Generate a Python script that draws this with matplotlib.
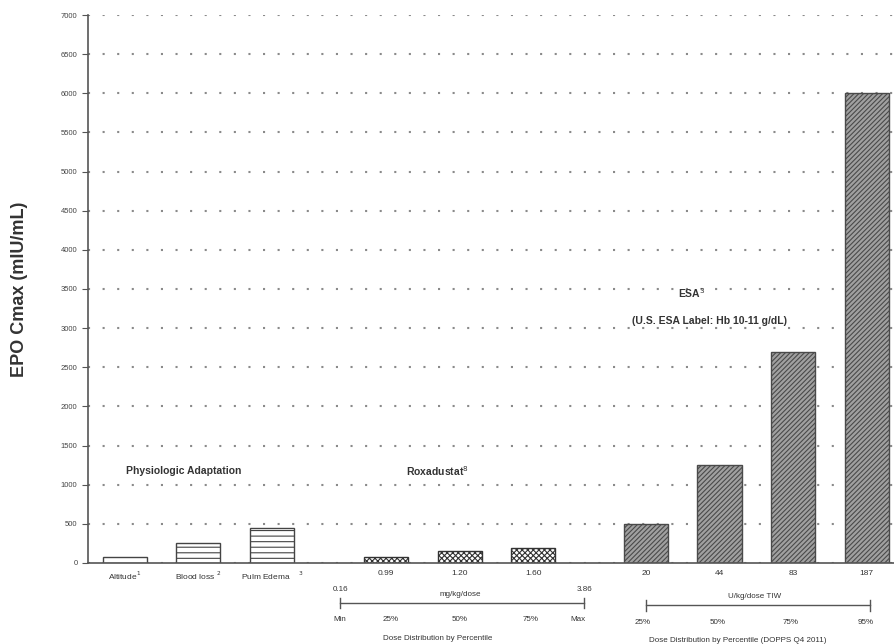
import matplotlib.pyplot as plt
import matplotlib.transforms as mtransforms

# EPO Cmax by condition / dose
phys_labels = ["Altitude$^1$", "Blood loss $^2$", "Pulm Edema    $^3$"]
phys_values = [80, 250, 450]
roxa_labels = ["0.99", "1.20", "1.60"]
roxa_values = [80, 150, 190]
esa_labels = ["20", "44", "83", "187"]
esa_values = [500, 1250, 2700, 6000]

roxa_pct = ["Min", "25%", "50%", "75%", "Max"]
esa_pct = ["25%", "50%", "75%", "95%"]

plt.rcParams['font.family'] = ['Liberation Sans', 'DejaVu Sans']

fig = plt.figure(figsize=(8.94, 6.44), dpi=100)
ax = fig.add_axes([0.0984, 0.1258, 0.9016, 0.8509])

x_phys = [0, 1, 2]
x_roxa = [3.55, 4.55, 5.55]
x_esa = [7.08, 8.08, 9.08, 10.08]
w = 0.6

plt.rcParams['hatch.linewidth'] = 0.8
ax.bar(x_phys[0], phys_values[0], w, facecolor='white', edgecolor='#444', lw=1)
ax.bar(x_phys[1:], phys_values[1:], w, facecolor='white', edgecolor='#444', lw=1, hatch='---')
ax.bar(x_roxa, roxa_values, w, facecolor='white', edgecolor='#333', lw=1, hatch='xxxxxx')
ax.bar(x_esa, esa_values, w, facecolor='#a0a0a0', edgecolor='#4a4a4a', lw=1, hatch='///////')

ax.set_xlim(-0.5, 10.45)
ax.set_ylim(0, 7000)
ax.set_yticks(range(0, 7001, 500))
ax.yaxis.grid(True, linestyle=(0, (1, 6)), color='#8a8a8a', lw=1.5)
ax.set_axisbelow(True)
for s in ['top', 'right']:
    ax.spines[s].set_visible(False)
ax.spines['left'].set_color('#555')
ax.spines['bottom'].set_color('#555')
ax.spines['left'].set_linewidth(1.2)
ax.spines['bottom'].set_linewidth(1.2)
ax.tick_params(axis='y', labelsize=5.5, colors='#555', length=4, labelcolor='#444')
ax.set_xticks(x_phys + x_roxa + x_esa)
ax.set_xticklabels(phys_labels + roxa_labels + esa_labels, fontsize=6, color='#333')
ax.tick_params(axis='x', length=0, pad=5)

ax.set_ylabel("EPO Cmax (mIU/mL)", fontsize=13, fontweight='bold', color='#333')
ax.yaxis.set_label_coords(-0.074, 0.5)

# group titles
tkw = dict(fontsize=7.5, fontweight='bold', color='#333', ha='center', va='center')
ax.text(0.8, 1170, "Physiologic Adaptation", **tkw)
ax.text(4.25, 1170, "Roxadustat$^8$", **tkw)
ax.text(7.70, 3450, "ESA$^3$", **tkw)
ax.text(7.95, 3090, "(U.S. ESA Label: Hb 10-11 g/dL)", **tkw)

# dose distribution scales under the axis
tr = mtransforms.blended_transform_factory(ax.transData, ax.transAxes)
kw = dict(transform=tr, fontsize=5.8, color='#333', ha='center', va='center', clip_on=False)

ax.text(2.93, -0.049, "0.16", **kw)
ax.text(6.24, -0.049, "3.86", **kw)
ax.text(4.56, -0.057, "mg/kg/dose", **kw)
ax.plot([2.93, 6.24], [-0.073, -0.073], transform=tr, color='#555', lw=1, clip_on=False)
for xe in [2.93, 6.24]:
    ax.plot([xe, xe], [-0.083, -0.063], transform=tr, color='#555', lw=1, clip_on=False)
for xp, lab in zip([2.92, 3.61, 4.55, 5.52, 6.16], roxa_pct):
    ax.text(xp, -0.104, lab, **kw)
ax.text(4.25, -0.138, "Dose Distribution by Percentile", **kw)

ax.text(8.55, -0.062, "U/kg/dose TIW", **kw)
ax.plot([7.08, 10.13], [-0.077, -0.077], transform=tr, color='#555', lw=1, clip_on=False)
for xe in [7.08, 10.13]:
    ax.plot([xe, xe], [-0.087, -0.067], transform=tr, color='#555', lw=1, clip_on=False)
for xp, lab in zip([7.04, 8.06, 9.05, 10.07], esa_pct):
    ax.text(xp, -0.108, lab, **kw)
ax.text(8.33, -0.141, "Dose Distribution by Percentile (DOPPS Q4 2011)", **kw)

fig.savefig("out.png", dpi=100)
